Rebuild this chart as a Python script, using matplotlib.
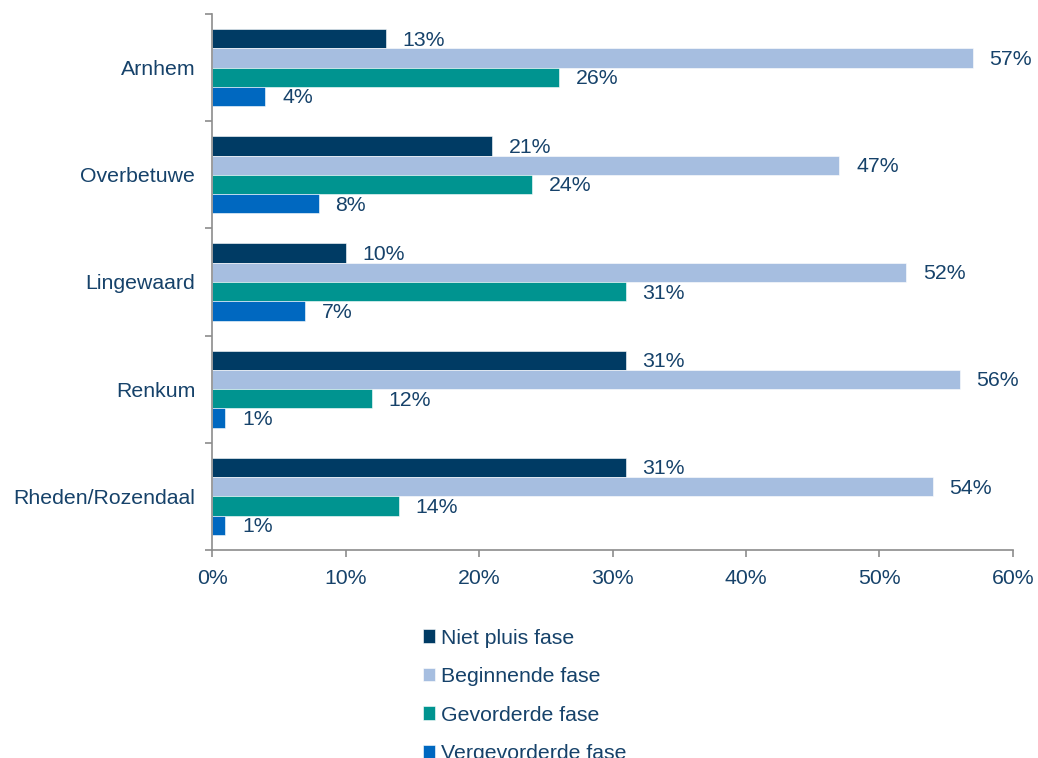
import matplotlib.pyplot as plt
import numpy as np

plt.rcParams['font.family'] = ['Liberation Sans', 'DejaVu Sans']

gemeenten = ['Arnhem', 'Overbetuwe', 'Lingewaard', 'Renkum', 'Rheden/Rozendaal']
series = ['Niet pluis fase', 'Beginnende fase', 'Gevorderde fase', 'Vergevorderde fase']
niet_pluis = [13, 21, 10, 31, 31]
beginnend = [57, 47, 52, 56, 54]
gevorderd = [26, 24, 31, 12, 14]
vergevorderd = [4, 8, 7, 1, 1]
colors = ['#003b64', '#a6bee0', '#009490', '#0068c0']

text_col = '#16426a'
fs = 15.3

fig = plt.figure(figsize=(10.38, 7.58), dpi=100)
ax = fig.add_axes([212 / 1038, 1 - 550 / 758, 801 / 1038, 536 / 758])

y = np.arange(len(gemeenten))
h = 0.18
data = [niet_pluis, beginnend, gevorderd, vergevorderd]
for k, (vals, col, name) in enumerate(zip(data, colors, series)):
    pos = y + (k - 1.5) * h
    bars = ax.barh(pos, [v / 100 for v in vals], height=h, color=col,
                   edgecolor='white', linewidth=0.4, label=name)
    for b, v in zip(bars, vals):
        ax.annotate(f'{v}%', (b.get_width(), b.get_y() + b.get_height() / 2),
                    xytext=(12, -1), textcoords='offset points',
                    ha='left', va='center', fontsize=fs, color=text_col)

ax.set_xlim(0, 0.6)
ax.set_ylim(len(gemeenten) - 0.5, -0.5)
ax.set_xticks(np.arange(0, 0.61, 0.1))
ax.set_xticklabels([f'{int(round(t * 100))}%' for t in np.arange(0, 0.61, 0.1)])
ax.set_yticks(y)
ax.set_yticklabels(gemeenten)
ax.set_yticks(np.arange(-0.5, len(gemeenten)), minor=True)

for s in ['top', 'right']:
    ax.spines[s].set_visible(False)
for s in ['left', 'bottom']:
    ax.spines[s].set_color('#8c8c8c')
    ax.spines[s].set_linewidth(1.2)

ax.tick_params(axis='y', which='major', length=0, pad=12, labelsize=fs, labelcolor=text_col)
ax.tick_params(axis='y', which='minor', length=5, width=1.2, color='#8c8c8c')
ax.tick_params(axis='x', length=5, width=1.2, color='#8c8c8c', pad=9,
               labelsize=fs, labelcolor=text_col)

leg = fig.legend(loc='upper left', bbox_to_anchor=(414 / 1038, 1 - 620 / 758),
                 frameon=False, fontsize=fs, handlelength=0.6, handleheight=0.6,
                 handletextpad=0.25, labelspacing=0.92, borderaxespad=0)
for t in leg.get_texts():
    t.set_color(text_col)

fig.savefig('out.png', dpi=100)
